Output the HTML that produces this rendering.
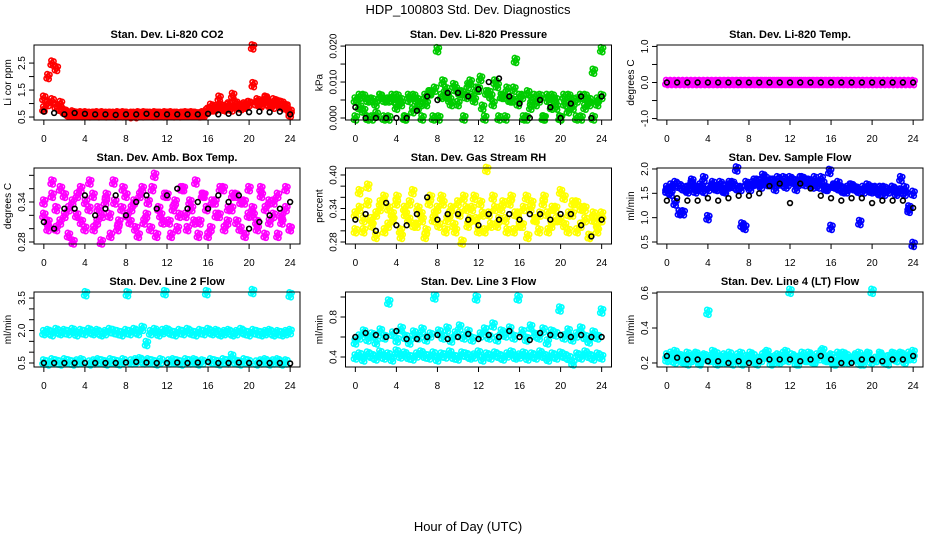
<!DOCTYPE html>
<html><head><meta charset="utf-8"><style>
body{margin:0;background:#fff}
svg{display:block;font-family:"Liberation Sans",sans-serif}
</style></head><body>
<svg id="c" width="936" height="540" viewBox="0 0 936 540" xmlns="http://www.w3.org/2000/svg">
<text x="468" y="14" text-anchor="middle" font-size="13">HDP_100803  Std. Dev. Diagnostics</text>
<text x="468" y="531" text-anchor="middle" font-size="13">Hour of Day (UTC)</text>
</svg>
<script>
const hourTicks=[0,4,8,12,16,20,24];
const co2A=[1.2,1.0,2.5,0.9,0.8,0.7,0.6,0.65,0.6,0.62,0.6,0.58,0.6,0.62,0.6,0.58,0.6,0.6,0.62,0.58,0.6,0.55,0.6,0.62,0.58,0.6,0.6,0.62,0.6,0.58,0.6,0.62,0.6,0.58,0.6,0.6,0.62,0.6,0.58,0.6,0.75,0.8,0.85,0.9,0.8,0.95,1.3,0.9,0.85,0.9,1.0,1.7,1.1,1.0,1.2,0.95,1.1,1.0,1.0,0.9,0.6];
const co2B=[0.8,2.0,1.1,2.3,1.0,0.7,0.6,0.6,0.6,0.58,0.62,0.6,0.6,0.58,0.62,0.6,0.6,0.58,0.6,0.62,0.6,0.6,0.55,0.6,0.62,0.6,0.58,0.6,0.6,0.62,0.6,0.58,0.6,0.6,0.62,0.6,0.6,0.58,0.62,0.7,0.9,0.8,1.2,0.85,0.9,0.8,1.0,0.9,0.95,1.0,3.1,1.0,0.95,1.15,1.0,0.9,1.05,0.9,0.85,0.7];
const co2K=[0.7,0.65,0.6,0.65,0.62,0.6,0.6,0.58,0.6,0.6,0.62,0.6,0.6,0.6,0.6,0.6,0.62,0.6,0.62,0.65,0.68,0.7,0.68,0.7,0.6];
const presA=[0.005,0.003,0.006,0,0.005,0.004,0.006,0,0.005,0.006,0.003,0.005,0,0.006,0.002,0.005,0.004,0.006,0.007,0,0.019,0.006,0.008,0.005,0.009,0.004,0.007,0.006,0.010,0.005,0.008,0.003,0.007,0.006,0.010,0,0.006,0.008,0.005,0.016,0.006,0,0.007,0.005,0.004,0.006,0,0.005,0.006,0.003,0,0.004,0.006,0.003,0.005,0,0.006,0.004,0.013,0.005,0.019];
const presB=[0,0.006,0.002,0.005,0,0.001,0.006,0.005,0,0.005,0.006,0.004,0,0.005,0.006,0.003,0,0.004,0.007,0.008,0,0.010,0.006,0.004,0.008,0.007,0,0.009,0.006,0.008,0.011,0,0.007,0.004,0.009,0.006,0,0.005,0.008,0.004,0.006,0,0.003,0.006,0.005,0,0.006,0.003,0.005,0,0.006,0.002,0.005,0,0.006,0.003,0.005,0,0.004,0.006];
const presK=[0.003,0,0,0,0,0,0.002,0.006,0.005,0.007,0.007,0.006,0.008,0.010,0.011,0.006,0.004,0,0.005,0.003,0,0.004,0.006,0,0.006];
const tempA=[0,0,0,0,0,0,0,0,0,0,0,0,0,0,0,0,0,0,0,0,0,0,0,0,0,0,0,0,0,0,0,0,0,0,0,0,0,0,0,0,0,0,0,0,0,0,0,0,0,0,0,0,0,0,0,0,0,0,0,0,0];
const tempB=[0,0,0,0,0,0,0,0,0,0,0,0,0,0,0,0,0,0,0,0,0,0,0,0,0,0,0,0,0,0,0,0,0,0,0,0,0,0,0,0,0,0,0,0,0,0,0,0,0,0,0,0,0,0,0,0,0,0,0,0];
const tempK=[0,0,0,0,0,0,0,0,0,0,0,0,0,0,0,0,0,0,0,0,0,0,0,0,0];
const ambA=[0.32,0.30,0.37,0.33,0.31,0.35,0.29,0.34,0.32,0.36,0.30,0.33,0.35,0.31,0.28,0.34,0.32,0.37,0.30,0.33,0.35,0.31,0.34,0.29,0.36,0.32,0.30,0.38,0.33,0.31,0.35,0.29,0.34,0.32,0.36,0.30,0.33,0.37,0.31,0.35,0.29,0.34,0.32,0.36,0.30,0.33,0.35,0.31,0.34,0.29,0.36,0.32,0.30,0.35,0.33,0.31,0.34,0.29,0.32,0.36,0.30];
const ambB=[0.34,0.31,0.35,0.30,0.36,0.32,0.33,0.28,0.35,0.31,0.34,0.37,0.30,0.33,0.32,0.35,0.29,0.34,0.31,0.36,0.32,0.33,0.30,0.35,0.31,0.34,0.36,0.29,0.32,0.35,0.31,0.33,0.30,0.36,0.32,0.34,0.31,0.29,0.35,0.33,0.30,0.34,0.32,0.36,0.31,0.33,0.35,0.30,0.34,0.32,0.33,0.31,0.36,0.29,0.34,0.32,0.35,0.31,0.33,0.30];
const ambK=[0.31,0.30,0.33,0.33,0.35,0.32,0.33,0.35,0.32,0.34,0.35,0.33,0.35,0.36,0.33,0.34,0.33,0.35,0.34,0.35,0.30,0.31,0.32,0.33,0.34];
const rhA=[0.33,0.37,0.30,0.35,0.32,0.29,0.34,0.36,0.31,0.33,0.35,0.30,0.34,0.32,0.37,0.31,0.33,0.29,0.35,0.32,0.34,0.36,0.30,0.33,0.31,0.35,0.28,0.34,0.32,0.36,0.30,0.33,0.41,0.31,0.34,0.32,0.35,0.30,0.36,0.33,0.31,0.34,0.29,0.35,0.32,0.33,0.36,0.30,0.34,0.32,0.37,0.31,0.33,0.35,0.30,0.34,0.32,0.29,0.33,0.31,0.32];
const rhB=[0.30,0.34,0.32,0.38,0.31,0.33,0.35,0.30,0.34,0.32,0.36,0.29,0.33,0.35,0.31,0.34,0.32,0.30,0.36,0.33,0.31,0.35,0.32,0.34,0.30,0.33,0.36,0.31,0.34,0.32,0.35,0.30,0.33,0.36,0.31,0.34,0.32,0.35,0.30,0.33,0.31,0.36,0.34,0.32,0.30,0.35,0.33,0.31,0.34,0.32,0.36,0.30,0.33,0.35,0.31,0.34,0.29,0.32,0.30,0.33];
const rhK=[0.32,0.33,0.30,0.35,0.31,0.31,0.33,0.36,0.32,0.33,0.33,0.32,0.31,0.33,0.32,0.33,0.32,0.33,0.33,0.32,0.33,0.33,0.31,0.29,0.32];
const sfA=[1.6,1.5,1.3,1.65,1.1,1.6,1.7,1.55,1.6,1.8,1.0,1.65,1.6,1.7,1.55,1.65,1.7,2.0,1.6,0.8,1.65,1.7,1.75,1.65,1.8,1.7,1.75,1.8,1.7,1.65,1.8,1.75,1.7,1.8,1.75,1.7,1.8,1.65,1.7,1.6,0.8,1.65,1.6,1.55,1.6,1.65,1.6,0.9,1.55,1.6,1.6,1.55,1.6,1.5,1.55,1.6,1.55,1.8,1.5,1.2,0.45];
const sfB=[1.55,1.65,1.7,1.1,1.6,1.55,1.75,1.6,1.65,1.55,1.6,1.7,1.6,1.65,1.55,1.7,1.65,1.6,0.85,1.7,1.6,1.75,1.7,1.85,1.7,1.75,1.6,1.75,1.8,1.7,1.75,1.6,1.8,1.7,1.75,1.65,1.7,1.8,1.6,1.95,1.65,1.7,1.6,1.55,1.65,1.6,1.55,1.6,1.65,1.55,1.6,1.5,1.6,1.55,1.6,1.5,1.55,1.6,1.15,1.5];
const sfK=[1.35,1.4,1.35,1.35,1.4,1.35,1.4,1.45,1.45,1.5,1.65,1.7,1.3,1.7,1.6,1.45,1.4,1.35,1.4,1.4,1.3,1.35,1.35,1.35,1.2];
const l2A=[1.9,1.95,1.85,2.0,1.9,1.95,1.9,2.0,1.85,1.95,1.9,2.0,1.9,1.95,1.85,1.9,2.0,1.95,1.9,1.85,1.95,1.9,2.0,1.9,2.1,1.4,1.9,2.0,1.85,1.95,2.0,1.9,1.85,1.95,1.9,2.0,1.9,1.85,1.95,1.9,2.0,1.9,1.95,1.85,1.9,1.95,1.85,1.9,2.0,1.9,1.85,1.95,1.9,1.85,1.9,1.95,1.85,1.9,1.85,1.9,1.95];
const l2B=[0.55,0.5,0.6,0.55,0.5,0.6,0.55,0.5,0.55,0.6,3.7,0.5,0.55,0.6,0.55,0.5,0.6,0.55,0.5,0.6,3.7,0.55,0.6,0.65,0.55,0.6,0.55,0.5,0.6,3.75,0.55,0.6,0.55,0.5,0.6,0.55,0.6,0.5,0.55,3.75,0.6,0.55,0.5,0.6,0.55,0.8,0.55,0.5,0.6,0.55,3.8,0.5,0.55,0.6,0.5,0.55,0.6,0.5,0.55,3.65];
const l2K=[0.5,0.5,0.5,0.5,0.5,0.5,0.5,0.5,0.52,0.55,0.52,0.5,0.5,0.52,0.5,0.52,0.55,0.5,0.5,0.52,0.5,0.5,0.5,0.5,0.48];
const l3A=[0.4,0.42,0.38,0.43,0.41,0.39,0.44,0.4,0.42,0.38,0.45,0.41,0.43,0.4,0.39,0.42,0.44,0.41,0.4,0.43,0.38,0.42,0.41,0.44,0.4,0.39,0.43,0.42,0.4,0.41,0.44,0.38,0.42,0.4,0.43,0.41,0.39,0.42,0.44,0.4,0.41,0.43,0.39,0.42,0.4,0.44,0.41,0.38,0.42,0.4,0.43,0.41,0.39,0.34,0.42,0.4,0.44,0.41,0.39,0.42,0.4];
const l3B=[0.55,0.6,0.65,0.58,0.62,0.55,0.66,0.6,0.95,0.63,0.57,0.68,0.6,0.55,0.64,0.6,0.67,0.58,0.62,1.0,0.65,0.6,0.68,0.57,0.63,0.7,0.6,0.65,0.58,0.99,0.62,0.67,0.6,0.72,0.58,0.65,0.62,0.68,0.6,0.99,0.65,0.58,0.7,0.62,0.6,0.67,0.55,0.65,0.63,0.88,0.6,0.66,0.58,0.62,0.68,0.6,0.56,0.64,0.6,0.86];
const l3K=[0.6,0.64,0.62,0.6,0.66,0.58,0.58,0.6,0.62,0.58,0.6,0.63,0.58,0.62,0.6,0.66,0.6,0.57,0.64,0.62,0.62,0.6,0.62,0.6,0.6];
const l4A=[0.24,0.22,0.26,0.23,0.21,0.25,0.22,0.24,0.2,0.23,0.49,0.22,0.25,0.21,0.24,0.23,0.2,0.22,0.25,0.21,0.23,0.24,0.2,0.22,0.25,0.23,0.21,0.24,0.22,0.26,0.61,0.23,0.2,0.25,0.22,0.24,0.21,0.23,0.27,0.22,0.24,0.2,0.23,0.25,0.21,0.22,0.24,0.2,0.23,0.25,0.61,0.22,0.24,0.21,0.23,0.25,0.22,0.24,0.21,0.25,0.23];
const l4B=[0.22,0.25,0.21,0.24,0.22,0.2,0.23,0.25,0.21,0.24,0.22,0.26,0.2,0.23,0.21,0.25,0.22,0.24,0.2,0.23,0.25,0.21,0.22,0.24,0.26,0.2,0.23,0.21,0.25,0.22,0.24,0.2,0.23,0.22,0.25,0.21,0.24,0.26,0.22,0.23,0.2,0.25,0.21,0.24,0.22,0.23,0.25,0.2,0.24,0.21,0.22,0.25,0.23,0.2,0.24,0.22,0.25,0.21,0.23,0.26];
const l4K=[0.24,0.23,0.22,0.22,0.21,0.21,0.2,0.21,0.2,0.21,0.22,0.22,0.22,0.21,0.22,0.24,0.22,0.2,0.2,0.22,0.22,0.21,0.22,0.22,0.24];

const panels=[
 {n:'co2',t:'Stan. Dev. Li-820 CO2',yl:'Li cor ppm',c:'#ff0000',d:[0.39,3.17],ticks:[0.5,1,1.5,2,2.5],lab:['0.5','','1.5','','2.5'],A:co2A,B:co2B,K:co2K},
 {n:'pressure',t:'Stan. Dev. Li-820 Pressure',yl:'kPa',c:'#00cc00',d:[-0.00056,0.0203],ticks:[0,0.005,0.01,0.015,0.02],lab:['0.000','','0.010','','0.020'],A:presA,B:presB,K:presK},
 {n:'temp',t:'Stan. Dev. Li-820 Temp.',yl:'degrees C',c:'#ff00ff',d:[-1.04,1.04],ticks:[-1,-0.5,0,0.5,1],lab:['-1.0','','0.0','','1.0'],A:tempA,B:tempB,K:tempK},
 {n:'amb-box-temp',t:'Stan. Dev. Amb. Box Temp.',yl:'degrees C',c:'#ff00ff',d:[0.277,0.391],ticks:[0.28,0.30,0.32,0.34,0.36,0.38],lab:['0.28','','','0.34','',''],A:ambA,B:ambB,K:ambK},
 {n:'gas-rh',t:'Stan. Dev. Gas Stream RH',yl:'percent',c:'#ffff00',d:[0.2764,0.4125],ticks:[0.28,0.30,0.32,0.34,0.36,0.38,0.40],lab:['0.28','','','0.34','','','0.40'],A:rhA,B:rhB,K:rhK},
 {n:'sample-flow',t:'Stan. Dev. Sample Flow',yl:'ml/min',c:'#0000ff',d:[0.459,2.02],ticks:[0.5,1,1.5,2],lab:['0.5','1.0','1.5','2.0'],A:sfA,B:sfB,K:sfK},
 {n:'line2-flow',t:'Stan. Dev. Line 2 Flow',yl:'ml/min',c:'#00ffff',d:[0.315,3.78],ticks:[0.5,1,1.5,2,2.5,3,3.5],lab:['0.5','','','2.0','','','3.5'],A:l2A,B:l2B,K:l2K},
 {n:'line3-flow',t:'Stan. Dev. Line 3 Flow',yl:'ml/min',c:'#00ffff',d:[0.3,1.05],ticks:[0.4,0.6,0.8,1.0],lab:['0.4','','0.8',''],A:l3A,B:l3B,K:l3K},
 {n:'line4-flow',t:'Stan. Dev. Line 4 (LT) Flow',yl:'ml/min',c:'#00ffff',d:[0.177,0.606],ticks:[0.2,0.4,0.6],lab:['0.2','0.4','0.6'],A:l4A,B:l4B,K:l4K}
];
const NS='http://www.w3.org/2000/svg';
const svg=document.getElementById('c');
function mk(tag,attrs,parent){const e=document.createElementNS(NS,tag);for(const k in attrs)e.setAttribute(k,attrs[k]);(parent||svg).appendChild(e);return e;}
const tops=[45,168,292],bots=[120,244,367];
// marker cluster offsets (pixels) so each reading renders as a dense glyph like the overplotted original
const cluster=[[0,0],[-1.6,1.8],[1.6,-1.8],[-0.8,-2.6],[0.8,2.6]];
panels.forEach((p,idx)=>{
 const col=idx%3,row=Math.floor(idx/3);
 const L=34+311.5*col,R=L+266,T=tops[row],B=bots[row];
 const g=mk('g',{});
 
 
 const xs=h=>L+(h+0.96)/25.92*266;
 const ys=v=>B-(v-p.d[0])/(p.d[1]-p.d[0])*(B-T);
 const ti=mk('text',{x:(L+R)/2,y:T-7,'text-anchor':'middle','font-size':'11','font-weight':'bold'},g);
 ti.textContent=p.t;
 
 
 const drawSet=(arr,color,name,dense)=>{
  const n=arr.length;
  arr.forEach((v,i)=>{
   const h=24*i/(n-1);
   const cx=xs(h),cy=ys(v);
   const offs=dense?cluster:[[0,0]];
   offs.forEach(o=>{
    const c=mk('circle',{cx:cx+o[0],cy:cy+o[1],r:2.4,fill:'none',stroke:color,'stroke-width':1.6},g);
    
    
   });
  });
 };
 drawSet(p.A,p.c,'point',true);
 drawSet(p.B,p.c,'point',true);
 drawSet(p.K,'#000','point-hourly',false);
 const box=mk('rect',{x:L,y:T,width:R-L,height:B-T,fill:'none',stroke:'#000','stroke-width':1},g);
 
 
 hourTicks.forEach(h=>{
  const x=xs(h);
  mk('line',{x1:x,x2:x,y1:B,y2:B+5,stroke:'#000'},g);
  const t=mk('text',{x:x,y:B+22,'text-anchor':'middle','font-size':'10'},g);
  t.textContent=String(h);
  
  
 });
 p.ticks.forEach((v,i)=>{
  const y=ys(v);
  mk('line',{x1:L-5,x2:L,y1:y,y2:y,stroke:'#000'},g);
  if(p.lab[i]){
   const t=mk('text',{x:L-9,y:y,'text-anchor':'middle','font-size':'10',transform:`rotate(-90 ${L-9} ${y})`},g);
   t.textContent=p.lab[i];
   
   
  }
 });
 const yc=(T+B)/2;
 const yt=mk('text',{x:L-23,y:yc,'text-anchor':'middle','font-size':'10',transform:`rotate(-90 ${L-23} ${yc})`},g);
 yt.textContent=p.yl;
 
 
});
</script>
</body></html>
